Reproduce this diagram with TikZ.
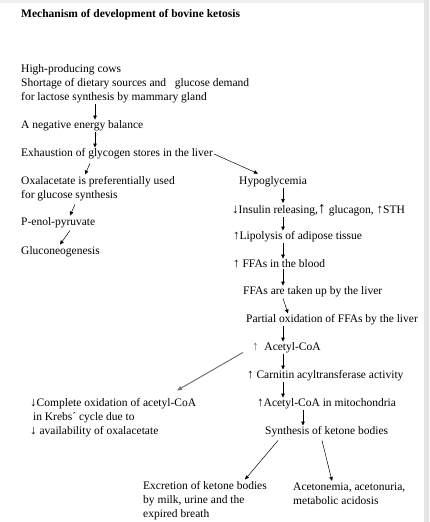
\documentclass[tikz,border=0pt]{standalone}
\usepackage{fontspec}
\setmainfont{Liberation Serif}
\usepackage{tikz}
\usetikzlibrary{arrows.meta, calc}

\newcommand{\upar}{{\fontsize{13}{14}\selectfont ↑}}
\newcommand{\dnar}{{\fontsize{13}{14}\selectfont ↓}}

\begin{document}
\begin{tikzpicture}[
    x=1pt, y=-1pt,
    txt/.style={anchor=west, inner sep=1pt, align=left,
                font=\fontsize{11.5}{14}\selectfont},
    arrow/.style={-{Triangle[length=4pt, width=3.5pt]}, line width=0.5pt},
    grayarrow/.style={-{Triangle[length=5pt, width=4pt]}, line width=1pt, draw=black!55}
]
    \useasboundingbox (0,0) rectangle (429,522);
    \fill[black!6] (0,0) rectangle (429,3);
    \fill[black!10] (424,0) rectangle (429,522);

    % Title
    \node[txt, font=\fontsize{11.5}{14}\selectfont\bfseries] (title) at (20,15) {Mechanism of development of bovine ketosis};

    % Left column
    \node[txt] (cows) at (20,84) {High-producing cows\\Shortage of dietary sources and \ \ glucose demand\\for lactose synthesis by mammary gland};
    \node[txt] (neb) at (20,126) {A negative energy balance};
    \node[txt] (exh) at (20,154) {Exhaustion of glycogen stores in the liver};
    \node[txt] (oxa) at (20,189) {Oxalacetate is preferentially used\\for glucose synthesis};
    \node[txt] (pep) at (20,223) {P-enol-pyruvate};
    \node[txt] (gluco) at (20,252) {Gluconeogenesis};

    % Right column
    \node[txt] (hypo) at (238,182) {Hypoglycemia};
    \node[txt] (insulin) at (231,210) {\dnar Insulin releasing,{\fontsize{16}{14}\selectfont ↑} glucagon, \upar STH};
    \node[txt] (lipo) at (232,237) {\upar Lipolysis of adipose tissue};
    \node[txt] (ffa) at (232,264) {\upar\ FFAs in the blood};
    \node[txt] (uptake) at (242,292) {FFAs are taken up by the liver};
    \node[txt] (partial) at (245,320) {Partial oxidation of FFAs by the liver};
    \node[txt] (acoa) at (251,348) {\textcolor{black!60}{\upar} \ Acetyl-CoA};
    \node[txt] (carn) at (246,376) {\upar\ Carnitin acyltransferase activity};
    \node[txt] (mito) at (256,404) {\upar Acetyl-CoA in mitochondria};
    \node[txt] (synth) at (264,432) {Synthesis of ketone bodies};

    % Krebs cycle
    \node[txt] (krebs) at (29,418) {\dnar Complete oxidation of acetyl-CoA\\\ in Krebs´ cycle due to\\\dnar\ availability of oxalacetate};

    % Outcomes
    \node[txt] (excr) at (142,501) {Excretion of ketone bodies\\by milk, urine and the\\expired breath};
    \node[txt] (aceto) at (292,494) {Acetonemia, acetonuria,\\metabolic acidosis};

    % Arrows, left
    \draw[arrow] (cows.south -| 95,0) -- (neb.north -| 95,0);
    \draw[arrow] (neb.south -| 95,0) -- (exh.north -| 95,0);
    \draw[arrow] ($(exh.south west)+(70,3)$) -- ($(oxa.north west)+(65,-1)$);
    \draw[arrow] ($(oxa.south west)+(55,2)$) -- ($(pep.north west)+(50,-1)$);
    \draw[arrow] ($(pep.south west)+(50,1)$) -- ($(gluco.north west)+(40,-1)$);
    \draw[arrow] (exh.east) -- ($(hypo.north west)+(20,-2)$);

    % Arrows, right
    \draw[arrow] (hypo.south -| 283,0) -- (insulin.north -| 283,0);
    \draw[arrow] (insulin.south -| 283,0) -- (lipo.north -| 283,0);
    \draw[arrow] (lipo.south -| 283,0) -- (ffa.north -| 283,0);
    \draw[arrow] (ffa.south -| 283,0) -- (uptake.north -| 283,0);
    \draw[arrow] (uptake.south -| 283,0) -- (partial.north -| 288,0);
    \draw[arrow] (partial.south -| 283,0) -- (acoa.north -| 283,0);
    \draw[arrow] (acoa.south -| 283,0) -- (carn.north -| 283,0);
    \draw[arrow] (carn.south -| 283,0) -- (mito.north -| 283,0);
    \draw[arrow] (mito.south -| 303,0) -- (synth.north -| 303,0);
    \draw[grayarrow] ($(acoa.south west)+(-8,-2)$) -- ($(krebs.north west)+(148,-7)$);
    \draw[arrow] ($(synth.south west)+(14,2)$) -- ($(excr.north west)+(103,-1)$);
    \draw[arrow] ($(synth.south west)+(58,2)$) -- ($(aceto.north west)+(40,-1)$);

\end{tikzpicture}
\end{document}
